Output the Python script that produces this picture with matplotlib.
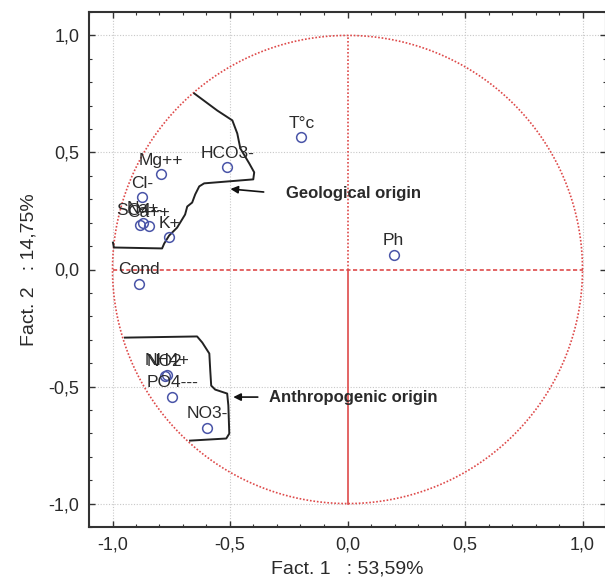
import numpy as np
import matplotlib
matplotlib.use("Agg")
import matplotlib.pyplot as plt
from matplotlib.ticker import MultipleLocator, FuncFormatter

plt.rcParams['font.family'] = ['Liberation Sans', 'DejaVu Sans']

# Variable loadings (Factor 1, Factor 2)
variables = ["T°c", "HCO3-", "Mg++", "Cl-", "SO4--", "Na+", "Ca++", "K+",
             "Cond", "Ph", "NO2", "NH4+", "PO4---", "NO3-"]
fact1 = [-0.196, -0.512, -0.793, -0.874, -0.885, -0.872, -0.846, -0.759,
         -0.887, 0.196, -0.778, -0.768, -0.746, -0.597]
fact2 = [0.564, 0.436, 0.406, 0.308, 0.192, 0.200, 0.184, 0.137,
         -0.060, 0.064, -0.455, -0.450, -0.543, -0.675]

# Hand-drawn group outlines
geo_x = [-0.652, -0.554, -0.490, -0.469, -0.456, -0.418, -0.397, -0.401, -0.610,
         -0.631, -0.648, -0.661, -0.682, -0.691, -0.725, -0.759, -0.780, -0.789,
         -0.994, -0.998]
geo_y = [0.752, 0.679, 0.637, 0.581, 0.517, 0.453, 0.415, 0.385, 0.368,
         0.355, 0.321, 0.286, 0.269, 0.235, 0.179, 0.145, 0.111, 0.090,
         0.094, 0.115]
ant_x = [-0.947, -0.640, -0.618, -0.588, -0.584, -0.580, -0.563, -0.512, -0.507,
         -0.503, -0.516, -0.670]
ant_y = [-0.291, -0.286, -0.312, -0.359, -0.432, -0.496, -0.513, -0.530, -0.581,
         -0.701, -0.722, -0.731]

fig = plt.figure(figsize=(6.05, 5.77), dpi=100)
ax = fig.add_axes([89/605, 50/577, 517/605, 515/577])
ax.set_xlim(-1.1, 1.1)
ax.set_ylim(-1.1, 1.1)

red = '#de4a4a'
# grid
for v in [-1.0, -0.5, 0.5, 1.0]:
    ax.axvline(v, color='#c8c8c8', lw=0.8, ls=(0, (1, 1.5)), zorder=0)
    ax.axhline(v, color='#c8c8c8', lw=0.8, ls=(0, (1, 1.5)), zorder=0)

# unit circle
t = np.linspace(0, 2*np.pi, 600)
ax.plot(np.cos(t), np.sin(t), color=red, lw=1.2, ls=(0, (1, 1.1)), zorder=1)
ax.plot([-1, 1], [0, 0], color=red, lw=1.2, ls=(0, (2.5, 1.5)), zorder=1)
ax.plot([0, 0], [0, 1], color=red, lw=1.2, ls=(0, (1, 1.2)), zorder=1)
ax.plot([0, 0], [-1, 0], color=red, lw=1.2, zorder=1)

# outlines
ax.plot(geo_x, geo_y, color='#222222', lw=1.4, zorder=2)
ax.plot(ant_x, ant_y, color='#222222', lw=1.4, zorder=2)

# points
ax.plot(fact1, fact2, ls='none', marker='o', ms=7, mfc='none',
        mec='#4a55a8', mew=1.1, zorder=3)
for name, x, y in zip(variables, fact1, fact2):
    ax.annotate(name, (x, y), xytext=(0, 7), textcoords='offset points',
                ha='center', va='baseline', fontsize=12.5, color='#2a2a2a', zorder=4)

# annotations
ax.annotate('', xy=(-0.51, 0.345), xytext=(-0.345, 0.33),
            arrowprops=dict(arrowstyle='-|>', color='#111111', lw=1.2,
                            mutation_scale=11))
ax.text(-0.26, 0.325, 'Geological origin', fontsize=12, fontweight='bold',
        va='center', ha='left', color='#2a2a2a')
ax.annotate('', xy=(-0.498, -0.545), xytext=(-0.37, -0.545),
            arrowprops=dict(arrowstyle='-|>', color='#111111', lw=1.2,
                            mutation_scale=11))
ax.text(-0.335, -0.545, 'Anthropogenic origin', fontsize=12, fontweight='bold',
        va='center', ha='left', color='#2a2a2a')

# ticks
fmt = FuncFormatter(lambda v, p: f"{v:.1f}".replace('.', ',').replace('-0,0', '0,0'))
for axis in (ax.xaxis, ax.yaxis):
    axis.set_major_locator(MultipleLocator(0.5))
    axis.set_minor_locator(MultipleLocator(0.1))
    axis.set_major_formatter(fmt)
ax.tick_params(which='both', direction='in', top=True, right=True, color='#333333')
ax.tick_params(which='major', length=4, width=1, labelsize=13, pad=7, labelcolor='#2a2a2a')
ax.tick_params(which='minor', length=2.5, width=0.8)
for s in ax.spines.values():
    s.set_linewidth(1.5)
    s.set_color('#333333')

ax.set_xlabel('Fact. 1   : 53,59%', fontsize=14, labelpad=5, color='#2a2a2a')
ax.set_ylabel('Fact. 2   : 14,75%', fontsize=14, labelpad=8, color='#2a2a2a')

fig.savefig('out.png', dpi=100)
